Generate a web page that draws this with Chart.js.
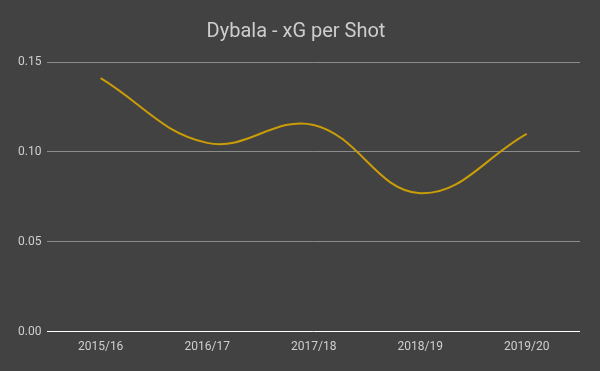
<!DOCTYPE html>
<html>
<head>
<meta charset="utf-8">
<script src="https://cdn.jsdelivr.net/npm/chart.js@4"></script>
<style>
  html, body { margin: 0; padding: 0; background: #424242; }
  #wrap { width: 600px; height: 371px; }
</style>
</head>
<body>
<div id="wrap"><canvas id="lineChart" width="600" height="371"></canvas></div>
<script>
const seasons = ['2015/16', '2016/17', '2017/18', '2018/19', '2019/20'];
const xgPerShot = [0.141, 0.105, 0.115, 0.077, 0.110];
const yTicks = [0, 0.05, 0.10, 0.15];

const ctx = document.getElementById('lineChart').getContext('2d');

new Chart(ctx, {
  type: 'line',
  data: {
    labels: seasons,
    datasets: [{
      label: 'xG per Shot',
      data: xgPerShot,
      borderColor: '#c99c08',
      borderWidth: 2,
      pointRadius: 0,
      tension: 0.4,
      fill: false
    }]
  },
  options: {
    responsive: false,
    animation: false,
    layout: { padding: { left: 12, right: 20, top: 8, bottom: 17 } },
    plugins: {
      legend: { display: false },
      tooltip: { enabled: false },
      title: {
        display: true,
        text: 'Dybala - xG per Shot',
        color: '#cdcdcd',
        font: { family: 'Roboto', size: 20, weight: 'normal' },
        padding: { top: 12, bottom: 18 }
      }
    },
    scales: {
      x: {
        offset: true,
        grid: { display: false },
        border: { display: false },
        ticks: { color: '#cfcfcf', font: { family: 'Roboto', size: 12 }, padding: 0 }
      },
      y: {
        min: 0,
        max: 0.15,
        afterBuildTicks: (axis) => { axis.ticks = yTicks.map(v => ({ value: v })); },
        border: { display: false },
        grid: {
          drawTicks: false,
          color: (c) => c.tick && c.tick.value === 0 ? '#ffffff' : '#8c8c8c',
          lineWidth: 1
        },
        ticks: {
          color: '#cfcfcf',
          font: { family: 'Roboto', size: 12 },
          padding: 6,
          callback: (v) => Number(v).toFixed(2)
        }
      }
    }
  }
});
</script>
</body>
</html>
